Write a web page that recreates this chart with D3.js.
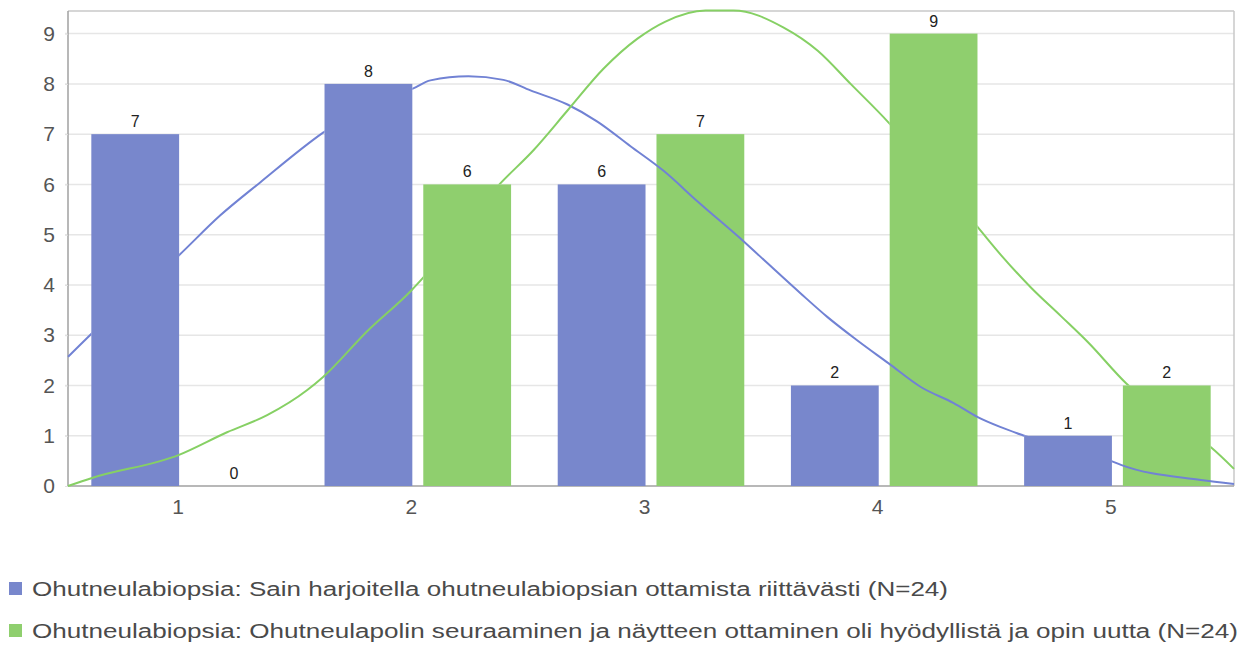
<!DOCTYPE html>
<html><head><meta charset="utf-8">
<script src="https://cdn.jsdelivr.net/npm/d3@7"></script>
<style>html,body{margin:0;padding:0;background:#fff;}svg{display:block;font-family:"Liberation Sans",Arial,sans-serif;}</style>
</head><body>
<svg id="chart" width="1251" height="646"></svg>
<script>
const categories = [1, 2, 3, 4, 5];
const seriesNames = [
  "Ohutneulabiopsia: Sain harjoitella ohutneulabiopsian ottamista riittävästi (N=24)",
  "Ohutneulabiopsia: Ohutneulapolin seuraaminen ja näytteen ottaminen oli hyödyllistä ja opin uutta (N=24)"
];
const blueValues = [7, 8, 6, 2, 1];
const greenValues = [0, 6, 7, 9, 2];
const yTicks = [0, 1, 2, 3, 4, 5, 6, 7, 8, 9];
const blueCurveX = [0.5, 0.603, 0.976, 1.152, 1.324, 1.594, 1.79, 1.981, 2.054, 2.217, 2.367, 2.483, 2.642, 2.770, 2.912, 3.054, 3.200, 3.406, 3.500, 3.642, 3.757, 3.878, 4.019, 4.157, 4.298, 4.401, 4.5, 4.594, 4.972, 5.015, 5.358, 5.5];
const blueCurveY = [2.57, 3.04, 4.59, 5.38, 6.04, 7.03, 7.6, 7.91, 8.07, 8.15, 8.08, 7.87, 7.59, 7.25, 6.76, 6.27, 5.66, 4.83, 4.43, 3.83, 3.36, 2.92, 2.44, 1.97, 1.65, 1.37, 1.17, 1.01, 0.50, 0.42, 0.12, 0.04];
const greenCurveX = [0.5, 0.603, 0.976, 1.182, 1.354, 1.526, 1.594, 1.783, 1.972, 2.024, 2.18, 2.354, 2.496, 2.642, 2.796, 2.942, 3.062, 3.234, 3.354, 3.569, 3.715, 3.856, 4.019, 4.208, 4.401, 4.5, 4.629, 4.758, 4.874, 5.036, 5.23, 5.401, 5.5];
const greenCurveY = [0, 0.16, 0.62, 1.07, 1.41, 1.91, 2.17, 3.08, 3.89, 4.15, 5.1, 6.02, 6.68, 7.47, 8.3, 8.9, 9.24, 9.46, 9.46, 9.12, 8.66, 8.0, 7.23, 6.2, 5.15, 4.6, 3.95, 3.38, 2.86, 2.05, 1.3, 0.77, 0.34];

const barColors = ["#7887cc", "#8fcf6e"];
const lineColors = ["#7182d4", "#86d064"];

const svg = d3.select("#chart");
const L = 68, R = 1234, T = 11, B = 486;
const x = d3.scaleLinear().domain([0.5, 5.5]).range([L, R]);
const y = d3.scaleLinear().domain([0, 9.45]).range([B, T]);
const unit = x(2) - x(1);
const inner = d3.scaleBand().domain([0, 1]).range([-0.4 * unit, 0.4 * unit]).paddingInner(0.111);

// grid
svg.append("g").selectAll("line").data(yTicks.filter(d => d > 0)).join("line")
  .attr("x1", L - 3).attr("x2", R).attr("y1", d => y(d)).attr("y2", d => y(d))
  .attr("stroke", "#e6e6e6").attr("stroke-width", 1.5);

// frame
svg.append("line").attr("x1", L).attr("x2", R).attr("y1", T).attr("y2", T).attr("stroke", "#c8c8c8").attr("stroke-width", 1.5);
svg.append("line").attr("x1", R).attr("x2", R).attr("y1", T).attr("y2", B).attr("stroke", "#c8c8c8").attr("stroke-width", 1.5);

// y axis
const yAxis = svg.append("g").attr("transform", `translate(${L},0)`)
  .call(d3.axisLeft(y).tickValues(yTicks).tickSize(3).tickPadding(10).tickFormat(d3.format("d")));
yAxis.select(".domain").attr("stroke", "#a0a0a0").attr("stroke-width", 1.5).attr("d", `M0,${T}V${B}`);
yAxis.selectAll(".tick line").attr("stroke", "#e0e0e0");
yAxis.selectAll(".tick text").attr("font-size", 21).attr("fill", "#555").attr("font-family", "Liberation Sans, Arial, sans-serif");

// x axis
const xAxis = svg.append("g").attr("transform", `translate(0,${B})`)
  .call(d3.axisBottom(x).tickValues(categories).tickSize(0).tickPadding(13).tickFormat(d3.format("d")));
xAxis.select(".domain").attr("stroke", "#a0a0a0").attr("stroke-width", 1.5).attr("d", `M${L},0H${R}`);
xAxis.selectAll(".tick text").attr("font-size", 21).attr("fill", "#555").attr("dx", -7).attr("font-family", "Liberation Sans, Arial, sans-serif");

const series = [blueValues, greenValues];
const curves = [[blueCurveX, blueCurveY], [greenCurveX, greenCurveY]];

// bars
series.forEach((vals, s) => {
  svg.append("g").selectAll("rect").data(categories).join("rect")
    .attr("x", (c) => x(c) + inner(s)).attr("width", inner.bandwidth())
    .attr("y", (c, i) => y(vals[i])).attr("height", (c, i) => B - y(vals[i]))
    .attr("fill", barColors[s]);
});

// masks: each curve hidden behind its own series' bars
const defs = svg.append("defs");
series.forEach((vals, s) => {
  const m = defs.append("mask").attr("id", "m" + s).attr("maskUnits", "userSpaceOnUse")
    .attr("x", 0).attr("y", 0).attr("width", 1251).attr("height", 646);
  m.append("rect").attr("x", 0).attr("y", 0).attr("width", 1251).attr("height", 646).attr("fill", "#fff");
  m.selectAll("rect.b").data(categories).join("rect").attr("class", "b")
    .attr("x", (c) => x(c) + inner(s)).attr("width", inner.bandwidth())
    .attr("y", (c, i) => y(vals[i])).attr("height", (c, i) => B - y(vals[i]))
    .attr("fill", "#000");
});

const line = d3.line().x(d => x(d[0])).y(d => y(d[1])).curve(d3.curveMonotoneX);
curves.forEach(([cx, cy], s) => {
  svg.append("path").datum(cx.map((v, i) => [v, cy[i]]))
    .attr("d", line).attr("fill", "none").attr("stroke", lineColors[s]).attr("stroke-width", 2)
    .attr("mask", `url(#m${s})`);
});

// value labels
series.forEach((vals, s) => {
  svg.append("g").selectAll("text").data(categories).join("text")
    .attr("x", (c) => x(c) + inner(s) + inner.bandwidth() / 2)
    .attr("y", (c, i) => y(vals[i]) - 7)
    .attr("text-anchor", "middle").attr("font-size", 16).attr("fill", "#222")
    .text((c, i) => vals[i]);
});

// legend
const legend = svg.append("g");
const legendW = [916, 1206];
seriesNames.forEach((name, s) => {
  const cy = 589 + s * 42;
  legend.append("rect").attr("x", 9).attr("y", cy - 7).attr("width", 13).attr("height", 13).attr("fill", barColors[s]);
  legend.append("text").attr("x", 32).attr("y", cy + 7).attr("font-size", 19.5).attr("fill", "#4a4a4a")
    .attr("textLength", legendW[s]).attr("lengthAdjust", "spacingAndGlyphs").text(name);
});
</script>
</body></html>
